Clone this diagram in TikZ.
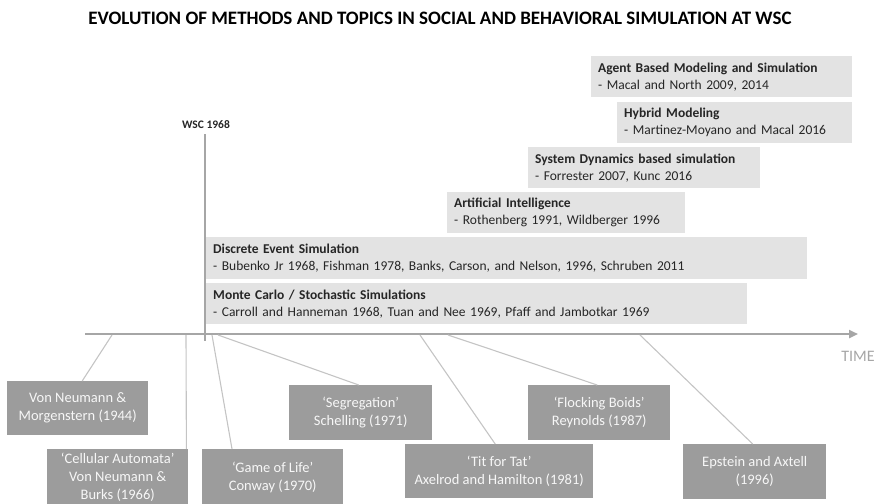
\documentclass[tikz,border=0pt]{standalone}
\usepackage{fontspec}
\setmainfont{Carlito}
\usetikzlibrary{arrows.meta}

\definecolor{topfill}{HTML}{E3E3E3}
\definecolor{toptext}{HTML}{262626}
\definecolor{evfill}{HTML}{9C9C9C}
\definecolor{evtext}{HTML}{F7F7F7}
\definecolor{axisgray}{HTML}{A6A6A6}
\definecolor{linkgray}{HTML}{C4C4C4}

\begin{document}
\begin{tikzpicture}[x=1pt,y=-1pt,
  topbox/.style={fill=topfill, text=toptext, anchor=north west,
    inner xsep=7pt, inner ysep=0pt, align=left,
    font=\fontsize{13.5}{17}\selectfont},
  evbox/.style={fill=evfill, text=evtext, anchor=north west,
    inner sep=0pt, align=center, font=\fontsize{14.5}{18}\selectfont},
  link/.style={draw=linkgray, line width=1.1pt},
  timeaxis/.style={draw=axisgray, line width=2.6pt,
    -{Triangle[length=9pt,width=8pt]}}
]
\useasboundingbox (0,0) rectangle (880,503);
\clip (0,0) rectangle (880,503);

% title
\node (title) at (440,18)
  {\fontsize{19}{22}\selectfont\bfseries EVOLUTION OF METHODS AND TOPICS IN SOCIAL AND BEHAVIORAL SIMULATION AT WSC};

% methods presented at the conference
\node[topbox, text width=247pt, minimum height=41pt] (abm) at (591,56)
  {\textbf{Agent Based Modeling and Simulation}\\- Macal and North 2009, 2014};
\node[topbox, text width=221pt, minimum height=41pt] (hybrid) at (617,102)
  {\textbf{Hybrid Modeling}\\- Martinez-Moyano and Macal 2016};
\node[topbox, text width=218pt, minimum height=41pt] (sd) at (528,147)
  {\textbf{System Dynamics based simulation}\\- Forrester 2007, Kunc 2016};
\node[topbox, text width=224pt, minimum height=41pt] (ai) at (447,192)
  {\textbf{Artificial Intelligence}\\- Rothenberg 1991, Wildberger 1996};
\node[topbox, text width=587pt, minimum height=42pt] (des) at (206,237)
  {\textbf{Discrete Event Simulation}\\- Bubenko Jr 1968, Fishman 1978, Banks, Carson, and Nelson, 1996, Schruben 2011};
\node[topbox, text width=527pt, minimum height=41pt] (mc) at (206,283)
  {\textbf{Monte Carlo / Stochastic Simulations}\\- Carroll and Hanneman 1968, Tuan and Nee  1969, Pfaff and Jambotkar 1969};

% first conference marker
\node[font=\fontsize{11.5}{13}\selectfont\bfseries, text=toptext] (wsc) at (206,125) {WSC 1968};
\coordinate (wsctop) at (205,134);
\coordinate (wscbot) at (205,341);
\draw[draw=axisgray, line width=1.3pt] (wsctop) -- (wscbot);

% time axis
\coordinate (t0) at (85,334);
\coordinate (t1) at (858,334);
\draw[timeaxis] (t0) -- (t1);
\node[text=axisgray, font=\fontsize{16}{18}\selectfont] (time) at (858,356) {TIME};

% milestones outside the conference
\node[evbox, minimum width=141pt, minimum height=54pt] (vnm) at (7,381)
  {Von Neumann \&\\Morgenstern (1944)};
\node[evbox, minimum width=141pt, minimum height=57pt] (ca) at (47,449)
  {‘Cellular Automata’\\Von Neumann \&\\Burks (1966)};
\node[evbox, minimum width=141pt, minimum height=57pt] (gol) at (202,449)
  {‘Game of Life’\\Conway (1970)};
\node[evbox, minimum width=143pt, minimum height=55pt] (seg) at (289,385)
  {‘Segregation’\\Schelling (1971)};
\node[evbox, minimum width=188pt, minimum height=54pt] (tft) at (405,444)
  {‘Tit for Tat’\\Axelrod and Hamilton (1981)};
\node[evbox, minimum width=142pt, minimum height=55pt] (boids) at (528,385)
  {‘Flocking Boids’\\Reynolds (1987)};
\node[evbox, minimum width=143pt, minimum height=55pt] (ea) at (683,444)
  {Epstein and Axtell\\(1996)};

% points on the axis
\coordinate (p1) at (112,335);
\coordinate (p2) at (186,335);
\coordinate (p3) at (212,335);
\coordinate (p4) at (218,335);
\coordinate (p5) at (420,335);
\coordinate (p6) at (448,335);
\coordinate (p7) at (640,335);

\draw[link] (p1) -- ([xshift=4.5pt]vnm.north);
\draw[link] (p2) -- ([xshift=-2pt]ca.north east);
\draw[link] (p3) -- ([xshift=30pt]gol.north west);
\draw[link] (p4) -- ([xshift=-2pt]seg.north);
\draw[link] (p5) -- ([xshift=-4pt]tft.north);
\draw[link] (p6) -- ([xshift=-2pt]boids.north);
\draw[link] (p7) -- ([xshift=-2pt]ea.north);
\end{tikzpicture}
\end{document}
